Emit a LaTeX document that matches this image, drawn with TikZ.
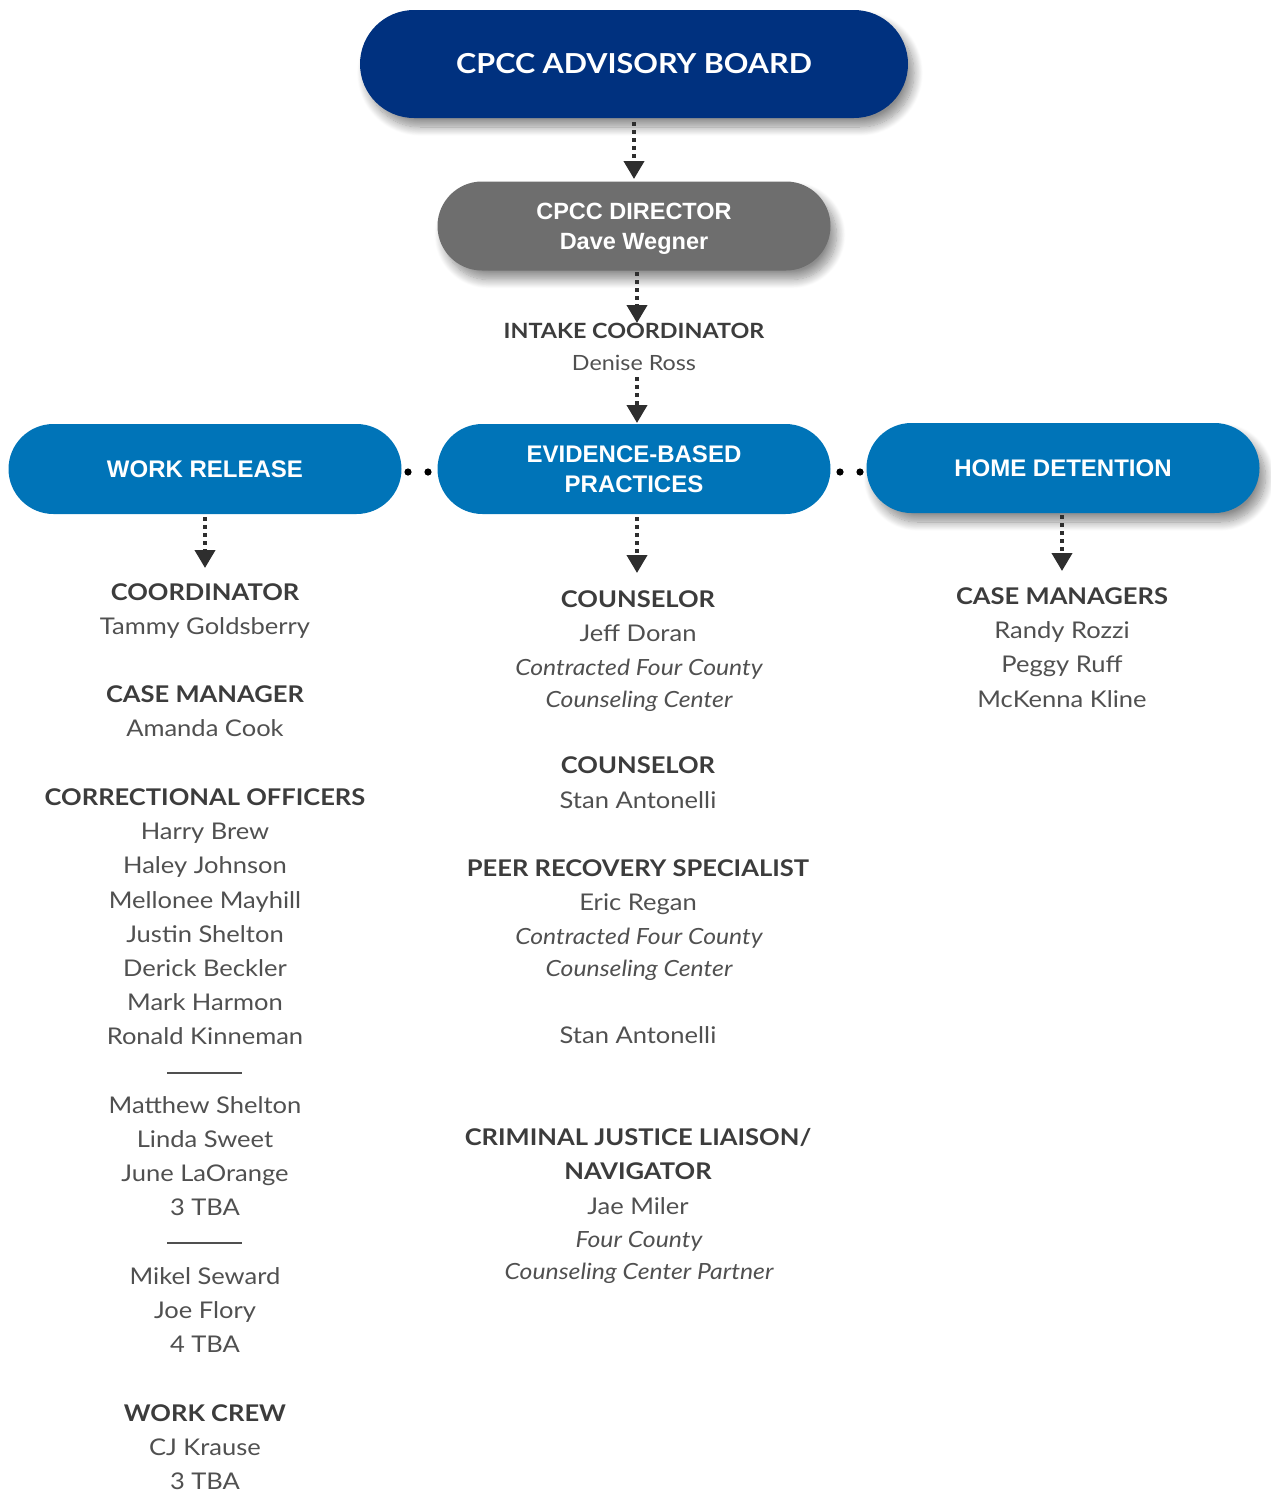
\documentclass[tikz,border=0pt]{standalone}
\usepackage{fontspec}
\setmainfont{Lato}[FakeStretch=1.11]
\newfontfamily\boxfont{Liberation Sans}
\usetikzlibrary{arrows.meta,shapes.misc,shadows.blur}
\definecolor{navy}{HTML}{00317F}
\definecolor{blueb}{HTML}{0074B8}
\definecolor{grayb}{HTML}{6E6E6E}
\definecolor{txt}{HTML}{505050}
\definecolor{hdr}{HTML}{3C3C3C}
\definecolor{arr}{HTML}{2E2E2E}
\newcommand\hdl[4]{\node[hdtext] (#1) at (#2,#3+8.5) {#4};}
\newcommand\bdl[4]{\node[bdtext] (#1) at (#2,#3+8.5) {#4};}
\newcommand\itl[4]{\node[ittext] (#1) at (#2,#3+8.5) {#4};}
\begin{document}
\begin{tikzpicture}[x=1pt,y=-1pt,
  pill/.style={rounded rectangle, minimum width=393pt, minimum height=90pt, inner sep=0pt,
    text=white, align=center, font=\boxfont\bfseries\fontsize{24}{30}\selectfont},
  shad/.style={blur shadow={shadow xshift=6pt, shadow yshift=-9pt, shadow blur steps=14,
    shadow opacity=45, shadow blur radius=9pt}},
  hdtext/.style={anchor=base, inner sep=0pt, text=hdr, font=\bfseries\fontsize{23}{28}\selectfont},
  bdtext/.style={anchor=base, inner sep=0pt, text=txt, font=\fontsize{23}{28}\selectfont},
  ittext/.style={anchor=base, inner sep=0pt, text=txt, font=\itshape\fontsize{22.3}{26}\selectfont},
  conn/.style={draw=arr, line width=4pt, dash pattern=on 4pt off 4pt,
    -{Triangle[width=20pt,length=18pt,fill=arr]}},
  sep/.style={draw=txt, line width=1.3pt},
  dotc/.style={fill=black}
]
\useasboundingbox (0,0) rectangle (1270,1494);

% boxes
\node[pill, shad, fill=navy, minimum width=548pt, minimum height=108pt,
  font=\bfseries\fontsize{27.5}{34}\selectfont] (board) at (634,64) {CPCC ADVISORY BOARD};
\node[pill, shad, fill=grayb, minimum height=89pt] (director) at (634,226) {};
\node[text=white, align=center, inner sep=0pt, font=\boxfont\bfseries\fontsize{23.5}{30}\selectfont]
  (dirtext) at (634,229) {CPCC DIRECTOR\\Dave Wegner};
\node[pill, fill=blueb] (wr) at (205,469) {WORK RELEASE};
\node[pill, fill=blueb] (ebp) at (634,469) {EVIDENCE-BASED\\PRACTICES};
\node[pill, shad, fill=blueb] (hd) at (1063,468) {HOME DETENTION};

% intake
\node[hdtext, font=\bfseries\fontsize{21}{26}\selectfont] (intake) at (634,330+8) {INTAKE COORDINATOR};
\node[bdtext, font=\fontsize{21}{26}\selectfont] (denise) at (634,362+8) {Denise Ross};

% connectors
\coordinate (a1s) at (634,122);
\coordinate (a1e) at (634,179);
\draw[conn] (a1s) -- (a1e);
\coordinate (a2s) at (637,272);
\coordinate (a2e) at (637,323);
\draw[conn] (a2s) -- (a2e);
\coordinate (a3s) at (637,377);
\coordinate (a3e) at (637,423);
\draw[conn] (a3s) -- (a3e);
\coordinate (a4s) at (205,517);
\coordinate (a4e) at (205,568);
\draw[conn] (a4s) -- (a4e);
\coordinate (a5s) at (637,517);
\coordinate (a5e) at (637,573);
\draw[conn] (a5s) -- (a5e);
\coordinate (a6s) at (1062,515);
\coordinate (a6e) at (1062,571);
\draw[conn] (a6s) -- (a6e);

% dots between boxes
\fill[dotc] (408,472) circle (3.6pt);
\fill[dotc] (428,472) circle (3.6pt);
\fill[dotc] (840,472) circle (3.6pt);
\fill[dotc] (860,472) circle (3.6pt);

% left column
\hdl{l1}{205}{592}{COORDINATOR}
\bdl{l2}{205}{626}{Tammy Goldsberry}
\hdl{l3}{205}{694}{CASE MANAGER}
\bdl{l4}{205}{728}{Amanda Cook}
\hdl{l5}{205}{797}{CORRECTIONAL OFFICERS}
\bdl{l6}{205}{831}{Harry Brew}
\bdl{l7}{205}{865}{Haley Johnson}
\bdl{l8}{205}{900}{Mellonee Mayhill}
\bdl{l9}{205}{934}{Justin Shelton}
\bdl{l10}{205}{968}{Derick Beckler}
\bdl{l11}{205}{1002}{Mark Harmon}
\bdl{l12}{205}{1036}{Ronald Kinneman}
\draw[sep] (167,1073) -- (242,1073);
\bdl{l13}{205}{1105}{Matthew Shelton}
\bdl{l14}{205}{1139}{Linda Sweet}
\bdl{l15}{205}{1173}{June LaOrange}
\bdl{l16}{205}{1207}{3 TBA}
\draw[sep] (167,1243) -- (242,1243);
\bdl{l17}{205}{1276}{Mikel Seward}
\bdl{l18}{205}{1310}{Joe Flory}
\bdl{l19}{205}{1344}{4 TBA}
\hdl{l20}{205}{1413}{WORK CREW}
\bdl{l21}{205}{1447}{CJ Krause}
\bdl{l22}{205}{1481}{3 TBA}

% middle column
\hdl{m1}{638}{599}{COUNSELOR}
\bdl{m2}{638}{633}{Jeff Doran}
\itl{m3}{639}{667}{Contracted Four County}
\itl{m4}{639}{699}{Counseling Center}
\hdl{m5}{638}{765}{COUNSELOR}
\bdl{m6}{638}{800}{Stan Antonelli}
\hdl{m7}{638}{868}{PEER RECOVERY SPECIALIST}
\bdl{m8}{638}{902}{Eric Regan}
\itl{m9}{639}{936}{Contracted Four County}
\itl{m10}{639}{968}{Counseling Center}
\bdl{m11}{638}{1035}{Stan Antonelli}
\hdl{m12}{638}{1137}{CRIMINAL JUSTICE LIAISON/}
\hdl{m13}{638}{1171}{NAVIGATOR}
\bdl{m14}{638}{1206}{Jae Miler}
\itl{m15}{639}{1239}{Four County}
\itl{m16}{639}{1271}{Counseling Center Partner}

% right column
\hdl{r1}{1062}{596}{CASE MANAGERS}
\bdl{r2}{1062}{630}{Randy Rozzi}
\bdl{r3}{1062}{664}{Peggy Ruff}
\bdl{r4}{1062}{699}{McKenna Kline}
\end{tikzpicture}
\end{document}
